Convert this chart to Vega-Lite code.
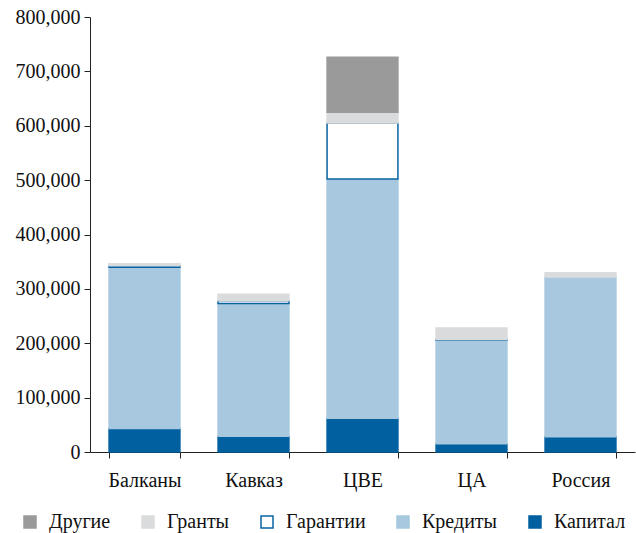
{
  "$schema": "https://vega.github.io/schema/vega-lite/v6.json",
  "width": 545,
  "height": 435,
  "autosize": {"type": "none"},
  "padding": {"left": 90, "top": 17, "right": 1, "bottom": 81},
  "background": "white",
  "config": {
    "view": {"stroke": null},
    "font": "Liberation Serif, Times New Roman, serif",
    "axis": {
      "labelFont": "Liberation Serif, Times New Roman, serif",
      "labelFontSize": 20,
      "labelColor": "#111",
      "domainColor": "#222",
      "tickColor": "#222",
      "tickSize": 6,
      "grid": false,
      "title": null
    },
    "legend": {
      "labelFont": "Liberation Serif, Times New Roman, serif",
      "labelFontSize": 20,
      "labelColor": "#111"
    }
  },
  "data": {
    "values": [
      {"region": "Балканы", "type": "Капитал", "ord": 1, "value": 43000},
      {"region": "Балканы", "type": "Кредиты", "ord": 2, "value": 297000},
      {"region": "Балканы", "type": "Гарантии", "ord": 3, "value": 2500},
      {"region": "Балканы", "type": "Гранты", "ord": 4, "value": 3500},
      {"region": "Кавказ", "type": "Капитал", "ord": 1, "value": 29000},
      {"region": "Кавказ", "type": "Кредиты", "ord": 2, "value": 244000},
      {"region": "Кавказ", "type": "Гарантии", "ord": 3, "value": 5000},
      {"region": "Кавказ", "type": "Гранты", "ord": 4, "value": 12000},
      {"region": "ЦВЕ", "type": "Капитал", "ord": 1, "value": 62000},
      {"region": "ЦВЕ", "type": "Кредиты", "ord": 2, "value": 440000},
      {"region": "ЦВЕ", "type": "Гарантии", "ord": 3, "value": 103000},
      {"region": "ЦВЕ", "type": "Гранты", "ord": 4, "value": 20000},
      {"region": "ЦВЕ", "type": "Другие", "ord": 5, "value": 101000},
      {"region": "ЦА", "type": "Капитал", "ord": 1, "value": 15000},
      {"region": "ЦА", "type": "Кредиты", "ord": 2, "value": 191000},
      {"region": "ЦА", "type": "Гарантии", "ord": 3, "value": 1000},
      {"region": "ЦА", "type": "Гранты", "ord": 4, "value": 21000},
      {"region": "Россия", "type": "Капитал", "ord": 1, "value": 28000},
      {"region": "Россия", "type": "Кредиты", "ord": 2, "value": 294000},
      {"region": "Россия", "type": "Гранты", "ord": 4, "value": 7500}
    ]
  },
  "mark": {"type": "bar", "strokeWidth": 1.5},
  "encoding": {
    "x": {
      "field": "region",
      "type": "nominal",
      "sort": ["Балканы", "Кавказ", "ЦВЕ", "ЦА", "Россия"],
      "scale": {"paddingInner": 0.35, "paddingOuter": 0.175},
      "axis": {"labelAngle": 0, "tickBand": "extent", "labelPadding": 12}
    },
    "y": {
      "field": "value",
      "type": "quantitative",
      "stack": "zero",
      "scale": {"domain": [0, 800000], "nice": false},
      "axis": {"values": [0, 100000, 200000, 300000, 400000, 500000, 600000, 700000, 800000], "format": ",d", "labelPadding": 4}
    },
    "order": {"field": "ord", "type": "quantitative"},
    "fill": {
      "field": "type",
      "type": "nominal",
      "scale": {
        "domain": ["Другие", "Гранты", "Гарантии", "Кредиты", "Капитал"],
        "range": ["#9a9a9b", "#dadbdc", "#ffffff", "#a7c8df", "#0060a0"]
      },
      "legend": {
        "title": null,
        "orient": "none",
        "direction": "horizontal",
        "legendX": -70,
        "legendY": 495,
        "symbolType": "square",
        "symbolSize": 144,
        "symbolStrokeWidth": 1.5,
        "labelOffset": 9,
        "columnPadding": 27
      }
    },
    "stroke": {
      "field": "type",
      "type": "nominal",
      "scale": {
        "domain": ["Другие", "Гранты", "Гарантии", "Кредиты", "Капитал"],
        "range": ["#9a9a9b", "#dadbdc", "#0a64a4", "#a7c8df", "#0060a0"]
      },
      "legend": null
    }
  }
}
